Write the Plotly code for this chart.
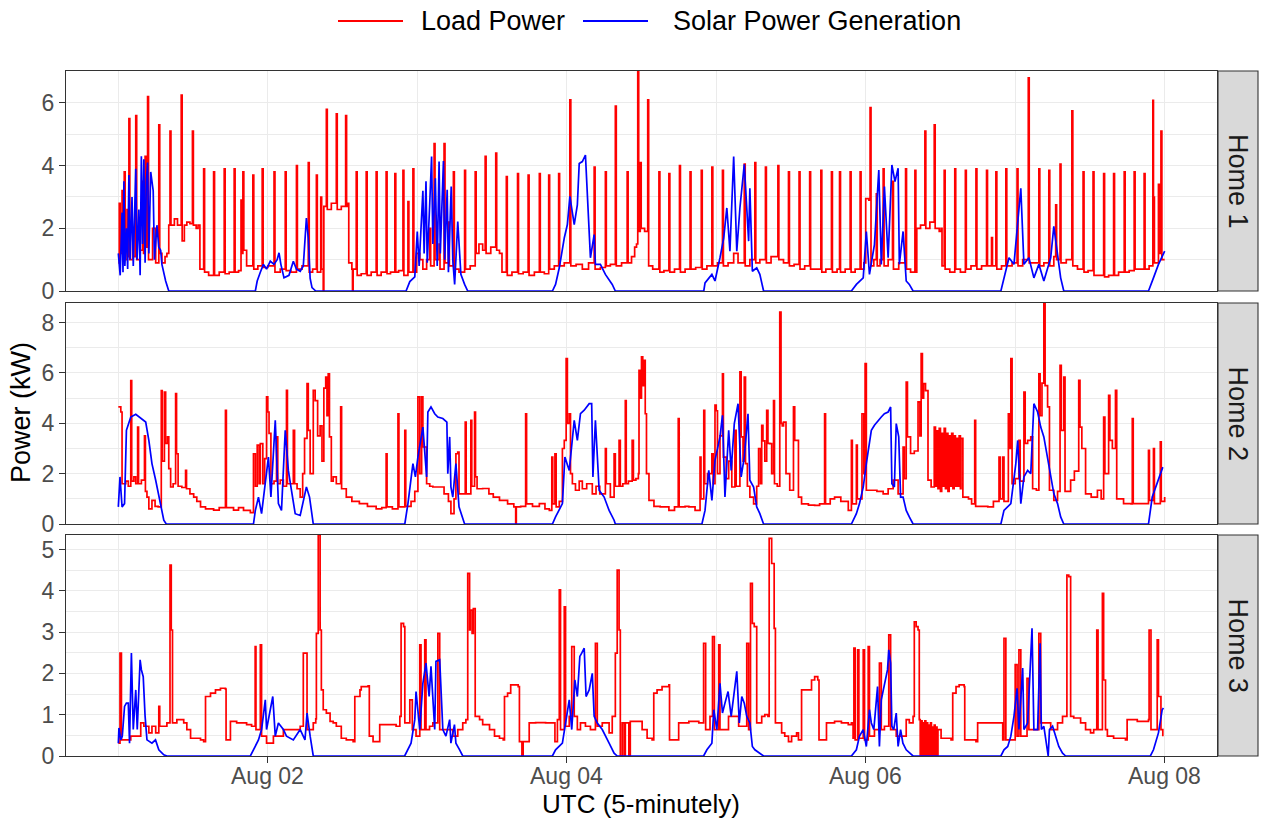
import plotly.graph_objects as go
import pandas as pd

# ---------------- data (hours since 2017-08-01 00:00 UTC, kW) ----------------
h1_load = [(0.0,0.9),(0.15,2.8),(0.3,1.2),(0.6,3.2),(0.8,1.0),(0.95,3.8),(1.1,1.0),(1.4,2.6),(1.55,1.1),(1.7,5.5),(1.85,1.0),(2.3,2.0),(2.5,1.1),(2.8,5.6),(2.95,1.0),(3.5,1.3),(3.9,3.5),(4.05,1.2),(4.3,4.3),(4.5,1.4),(4.7,6.2),(4.85,1.0),(5.5,2.0),(6.0,0.9),(6.5,5.3),(6.65,1.2),(7.0,0.9),(7.5,1.1),(7.8,1.2),(8.1,2.1),(8.3,5.1),(8.45,2.1),(9.0,2.3),(9.5,2.1),(10.1,6.25),(10.25,1.6),(10.6,2.1),(11.0,2.2),(11.5,2.15),(11.9,5.1),(12.05,2.1),(12.5,2.0),(12.8,2.1),(13.1,0.7),(13.7,3.9),(13.85,0.6),(14.5,0.5),(15.3,3.8),(15.45,0.5),(16.2,0.6),(17.0,3.9),(17.15,0.55),(17.8,0.6),(18.6,3.9),(18.75,0.6),(19.3,0.65),(19.7,2.9),(19.85,1.2),(20.0,3.8),(20.15,1.3),(20.6,0.8),(21.6,3.7),(21.75,0.7),(22.4,0.8),(23.1,3.9),(23.25,0.75),(24.0,0.8),(25.0,3.8),(25.15,0.6),(26.0,0.7),(26.8,3.8),(26.95,0.65),(27.7,0.6),(28.6,4.0),(28.75,0.7),(29.5,0.8),(30.5,4.1),(30.65,0.6),(31.2,0.7),(31.8,3.7),(31.95,0.6),(32.5,3.0),(32.65,0.7),(32.85,0.7),(32.9,0.0),(33.0,2.7),(33.4,5.8),(33.55,2.6),(34.2,2.8),(35.0,5.65),(35.15,2.6),(35.8,2.7),(36.5,5.6),(36.65,2.7),(36.9,2.8),(37.0,0.9),(37.5,0.7),(37.6,0.0),(37.7,0.7),(38.2,3.8),(38.35,0.5),(39.0,0.55),(39.8,3.8),(39.95,0.5),(40.6,0.6),(41.4,3.8),(41.55,0.5),(42.2,0.6),(43.0,3.8),(43.15,0.55),(43.7,0.6),(44.4,3.75),(44.55,0.6),(45.0,0.65),(45.7,3.85),(45.85,0.5),(46.5,2.85),(46.65,0.6),(47.3,3.9),(47.45,0.6),(47.9,1.2),(48.4,1.0),(48.9,0.7),(49.5,1.0),(50.0,2.0),(50.15,0.8),(50.7,4.7),(50.85,1.0),(51.5,1.5),(51.65,0.7),(52.3,4.7),(52.45,0.9),(53.0,2.2),(53.15,0.8),
(53.8,3.8),(53.95,0.7),(54.7,0.6),(55.6,3.85),(55.75,0.7),(56.5,0.8),(57.3,3.8),(57.45,1.2),(57.9,1.5),(58.5,1.3),(58.9,4.3),(59.05,1.2),(59.8,1.4),(60.6,4.4),(60.75,1.3),(61.2,1.2),(61.6,0.6),(62.3,3.65),(62.45,0.5),(63.2,0.6),(64.1,3.75),(64.25,0.55),(65.0,0.6),(65.8,3.7),(65.95,0.5),(66.8,0.6),(67.6,3.75),(67.75,0.6),(68.4,0.55),(69.1,3.7),(69.25,0.7),(70.0,0.8),(70.7,3.75),(70.85,0.8),(71.6,0.9),(72.5,6.1),(72.65,0.8),(73.5,0.85),(74.5,0.7),(75.5,0.9),(76.4,3.95),(76.55,0.7),(77.4,0.75),(78.2,3.8),(78.35,0.8),(79.0,0.85),(79.8,5.9),(79.95,0.8),(80.8,0.9),(81.7,3.8),(81.85,0.9),(82.4,1.1),(82.9,1.4),(83.2,1.5),(83.4,7.02),(83.55,1.9),(83.8,4.1),(83.95,2.0),(84.5,1.9),(85.0,6.1),(85.15,0.8),(85.8,0.7),(86.8,3.8),(86.95,0.6),(87.6,0.65),(88.4,3.75),(88.55,0.6),(89.3,0.7),(90.1,4.0),(90.25,0.6),(91.0,0.7),(91.8,3.8),(91.95,0.7),(92.7,0.75),(93.6,3.85),(93.75,0.7),(94.5,0.8),(95.3,3.95),(95.45,0.8),(96.2,0.9),(97.0,3.85),(97.15,0.8),(97.9,0.9),(98.8,1.2),(99.5,0.9),(100.5,4.05),(100.65,0.8),(101.4,1.0),(102.2,4.1),(102.35,0.9),(103.0,1.0),(103.9,3.95),(104.05,0.9),(104.8,1.1),(105.9,4.0),(106.05,1.0),(106.8,0.9),(107.6,3.8),(107.75,0.8),(108.5,0.85),(109.3,3.8),(109.45,0.7),(110.2,0.8),(111.0,3.8),(111.15,0.7),(111.9,0.7),(112.8,3.85),(112.95,0.6),(113.6,0.7),(114.5,3.8),(114.65,0.6),(115.4,0.7),
(115.8,3.8),(115.95,0.6),(116.7,0.7),(117.5,3.8),(117.65,0.6),(118.3,0.7),(119.1,3.8),(119.25,0.7),(119.7,0.9),(120.0,2.95),(120.5,2.9),(120.7,5.85),(120.85,0.8),(121.3,1.0),(121.7,3.1),(121.85,0.8),(122.3,1.0),(122.8,3.9),(122.95,0.8),(123.6,1.0),(124.3,3.5),(124.45,0.7),(125.3,0.9),(126.4,3.9),(126.55,0.7),(127.2,0.6),(127.9,3.85),(128.05,0.6),(128.2,2.0),(128.8,2.1),(129.5,5.1),(129.65,2.0),(130.3,2.2),(131.0,5.3),(131.15,2.0),(131.8,1.9),(132.1,2.0),(132.25,0.8),(132.6,3.85),(132.75,0.7),(133.5,0.6),(134.3,3.9),(134.45,0.7),(135.2,0.6),(136.0,3.85),(136.15,0.7),(136.9,0.8),(137.7,3.9),(137.85,0.7),(138.6,0.8),(139.4,3.85),(139.55,0.8),(140.2,1.7),(140.35,0.8),(140.9,3.8),(141.05,0.7),(141.8,0.8),(142.5,3.9),(142.65,0.8),(143.5,0.9),(144.3,3.9),(144.45,0.8),(145.2,1.0),(146.1,6.8),(146.25,0.9),(147.0,0.9),(147.8,3.9),(147.95,0.8),(148.6,0.9),(149.4,3.85),(149.55,0.8),(150.2,1.1),(150.5,2.75),(150.65,1.0),(151.2,4.05),(151.35,0.9),(152.2,1.0),(153.1,5.75),(153.25,0.8),(154.0,0.7),(154.9,3.8),(155.05,0.6),(155.7,0.65),(156.5,3.8),(156.65,0.5),(157.4,0.5),(158.2,3.75),(158.35,0.45),(159.0,0.5),(159.8,3.75),(159.95,0.5),(160.6,0.6),(161.5,3.8),(161.65,0.6),(162.3,0.65),(163.1,3.8),(163.25,0.7),(163.9,0.7),(164.7,3.75),(164.85,0.7),(165.5,0.8),(166.1,6.08),(166.2,3.0),(166.35,0.9),(167.0,3.4),(167.15,1.2),(167.4,5.1),(167.55,1.0),(168.0,1.0)]

h1_solar = [(0.0,1.2),(0.3,0.5),(0.6,2.5),(0.75,0.6),(0.9,3.5),(1.05,0.8),(1.3,2.0),(1.5,0.7),(1.7,3.7),(1.9,1.0),(2.2,3.0),(2.4,0.8),(2.8,3.9),(3.0,1.0),(3.3,2.6),(3.5,0.5),(3.7,4.3),(3.9,1.5),(4.1,4.2),(4.3,0.9),(4.5,3.5),(4.7,4.1),(4.9,1.2),(5.2,3.8),(5.6,3.2),(5.8,1.0),(6.2,2.1),(6.5,1.4),(6.8,1.3),(7.0,0.85),(7.6,0.32),(8.1,0.0),
(22.0,0.0),(22.3,0.32),(22.8,0.6),(23.3,0.85),(23.8,0.7),(24.4,0.95),(25.0,0.85),(25.5,1.0),(25.8,1.22),(26.1,0.85),(26.6,0.42),(27.4,0.5),(28.1,0.95),(28.6,0.7),(29.2,0.63),(29.7,0.8),(30.2,2.33),(30.5,1.69),(30.8,0.4),(31.1,0.11),(31.7,0.0),
(46.2,0.0),(46.8,0.3),(47.6,0.45),(48.0,1.9),(48.3,0.8),(48.9,3.2),(49.1,1.2),(49.4,3.5),(49.6,0.9),(50.0,2.8),(50.3,4.29),(50.5,1.5),(50.9,3.6),(51.2,0.8),(51.5,4.13),(51.7,1.2),(52.0,3.0),(52.2,4.15),(52.4,1.0),(52.8,3.23),(53.0,0.6),(53.45,3.33),(53.7,1.0),(54.0,0.21),(54.5,2.22),(55.0,0.53),(55.6,0.21),(56.1,0.0),
(69.7,0.0),(70.2,0.21),(70.8,0.74),(71.6,1.69),(72.1,2.12),(72.5,3.02),(73.2,2.12),(73.7,2.75),(74.0,4.07),(74.5,4.13),(75.0,4.34),(75.6,1.9),(75.8,1.06),(76.4,1.8),(76.6,0.85),(77.4,0.85),(78.2,0.53),(79.3,0.21),(79.8,0.0),
(94.0,0.0),(94.2,0.26),(95.3,0.53),(95.8,0.32),(96.6,1.06),(97.2,1.69),(97.7,2.65),(98.2,1.27),(98.8,4.29),(99.3,1.27),(99.8,2.65),(100.5,4.04),(101.2,1.59),(101.4,3.28),(101.8,0.63),(102.5,0.74),(103.0,0.53),(103.6,0.0),
(117.7,0.0),(118.5,0.21),(119.6,0.42),(120.1,1.9),(120.6,0.53),(121.4,1.48),(122.1,3.86),(122.5,0.85),(123.0,3.33),(123.6,1.06),(124.2,4.02),(124.7,3.49),(125.2,3.92),(125.4,0.85),(126.0,1.9),(126.5,0.32),(127.0,0.21),(127.6,0.0),
(141.7,0.0),(142.2,0.42),(143.0,1.06),(143.8,0.85),(144.9,3.28),(145.4,0.85),(146.2,1.06),(147.0,0.42),(147.8,0.85),(148.6,0.32),(149.7,1.06),(150.2,2.06),(150.8,1.06),(151.3,0.42),(151.8,0.0),
(165.4,0.0),(166.2,0.42),(167.0,0.85),(168.0,1.27)]

h2_load = [(0.0,4.65),(0.4,4.45),(0.6,1.6),(1.2,1.7),(1.6,1.5),(2.0,5.7),(2.15,1.7),(2.5,1.87),(2.8,1.6),(3.1,3.85),(3.25,1.6),(3.7,1.74),(4.2,3.5),(4.35,1.3),(4.6,1.07),(4.9,0.6),(5.4,0.94),(5.9,0.7),(6.4,0.68),(6.9,5.3),(7.05,2.5),(7.4,5.24),(7.6,3.2),(7.9,3.46),(8.1,2.2),(8.4,1.47),(8.8,1.6),(9.2,5.18),(9.35,2.79),(9.6,1.5),(10.2,1.45),(10.8,2.13),(10.95,1.4),(11.5,1.2),(12.1,1.07),(12.6,0.9),(13.2,0.68),(14.0,0.6),(15.3,0.55),(16.2,0.65),(17.2,4.52),(17.35,0.65),(18.5,0.55),(19.3,0.65),(20.1,0.54),(21.2,0.45),(21.7,2.79),(22.0,1.5),(22.3,3.13),(22.6,1.6),(22.8,3.19),(23.2,1.6),(23.5,2.6),(23.8,5.05),(24.0,4.45),(24.2,3.6),(24.5,1.6),(25.0,1.7),(25.4,3.46),(25.6,1.6),(26.0,1.74),(26.5,1.5),(27.0,5.31),(27.15,1.6),(27.6,1.6),(28.1,3.72),(28.3,1.6),(28.7,1.4),(29.2,1.07),(29.6,2.0),(29.9,3.4),(30.3,5.58),(30.5,3.72),(30.8,2.0),(31.3,5.31),(31.6,4.9),(32.0,3.5),(32.4,3.9),(32.7,2.5),(33.0,5.4),(33.3,5.84),(33.5,4.3),(33.7,5.97),(33.9,3.46),(34.2,1.7),(34.5,1.87),(35.0,1.6),(35.7,4.65),(35.85,1.4),(36.6,1.07),(37.5,0.9),(38.7,0.81),(40.0,0.7),(41.4,0.6),(42.3,0.65),(43.0,2.79),(43.15,0.68),(44.0,0.6),(44.9,4.38),(45.05,0.68),(46.0,3.72),(46.15,0.7),(47.0,0.9),(47.6,1.3),(48.1,5.05),(48.4,2.0),(48.7,5.05),(48.9,3.06),(49.5,1.6),(50.0,1.5),(50.5,1.47),(51.6,1.47),(52.3,1.2),(53.0,0.9),(53.4,0.41),(53.9,1.0),(54.2,2.79),(54.5,2.86),(54.7,1.2),(55.0,1.2),
(55.7,4.05),(55.85,1.2),(56.1,1.2),(56.6,4.12),(56.75,1.5),(57.2,4.45),(57.35,1.87),(57.6,1.4),(58.5,1.41),(59.5,1.2),(60.2,1.07),(61.2,0.94),(62.5,0.8),(63.5,0.68),(63.8,0.0),(63.9,0.68),(64.6,0.7),(65.4,4.38),(65.55,0.8),(66.5,0.7),(67.6,0.81),(68.5,0.6),(69.2,0.54),(69.6,2.66),(69.75,0.8),(70.1,2.79),(70.3,0.68),(70.8,0.9),(71.3,3.0),(71.6,3.32),(71.9,6.57),(72.1,4.0),(72.4,4.38),(72.6,2.0),(72.9,1.6),(73.4,1.34),(74.0,1.7),(74.5,1.4),(75.2,1.6),(76.1,1.2),(76.7,1.5),(77.3,1.2),(78.2,3.0),(78.35,1.6),(79.0,1.07),(79.6,2.79),(79.8,1.5),(80.4,3.32),(80.6,1.5),(81.0,1.6),(81.4,4.9),(81.55,1.6),(81.9,1.7),(82.5,3.32),(82.7,1.74),(83.1,1.8),(83.5,2.0),(83.6,6.1),(83.8,5.0),(84.0,6.64),(84.2,5.5),(84.4,6.5),(84.6,4.38),(84.8,2.0),(85.2,0.94),(86.0,0.7),(87.0,0.68),(88.4,0.54),(89.3,0.68),(89.9,4.19),(90.05,0.68),(91.0,0.7),(91.6,0.68),(92.6,0.54),(93.4,2.66),(93.55,1.0),(94.0,4.52),(94.15,1.6),(94.6,2.0),(95.3,2.79),(95.5,1.6),(95.8,4.72),(96.0,4.5),(96.2,2.0),(96.6,3.5),(97.0,5.97),(97.15,2.66),(97.6,1.8),(98.0,2.5),(98.5,1.47),(99.0,3.72),(99.2,1.5),(99.8,6.04),(100.0,3.46),(100.3,2.5),(100.5,5.84),(100.7,2.4),(101.0,1.5),(101.4,1.07),(102.0,0.8),(102.5,1.5),(102.8,3.0),(103.1,1.6),(103.3,3.92),(103.5,3.3),(103.8,2.5),(104.1,4.52),(104.3,3.2),(104.6,3.19),(104.9,2.0),(105.2,4.9),(105.35,1.6),(105.8,1.5),(106.2,8.42),(106.4,4.0),(106.6,3.9),(106.8,4.05),(107.2,2.0),(107.8,1.34),(108.4,4.65),(108.6,3.32),(108.9,3.32),(109.2,1.07),(109.7,0.8),(110.8,0.75),(111.8,0.74),(112.6,0.8),(113.4,4.38),(113.55,0.8),(114.3,1.0),(115.0,1.07),(116.0,0.9),(117.2,0.54),
(117.7,3.32),(117.85,0.8),(118.5,3.13),(118.65,1.0),(119.0,1.0),(119.4,4.38),(119.7,2.0),(119.9,6.37),(120.1,1.34),(120.9,1.34),(121.8,1.3),(122.8,1.2),(123.6,1.4),(124.4,1.74),(125.2,1.2),(126.0,3.06),(126.2,1.8),(126.5,5.64),(126.7,3.46),(127.2,2.8),(127.8,2.9),(128.4,4.85),(128.7,3.5),(128.9,6.77),(129.1,5.0),(129.3,5.58),(129.6,5.3),(130.0,1.74),(130.5,1.47),(131.0,3.85),(131.2,1.5),(131.4,3.7),(131.6,1.4),(131.8,3.8),(132.0,1.3),(132.2,3.6),(132.4,1.5),(132.6,3.8),(132.8,1.4),(133.0,3.6),(133.2,1.3),(133.4,3.5),(133.6,1.5),(133.8,3.6),(134.0,1.4),(134.2,3.5),(134.4,1.5),(134.6,3.4),(134.8,1.5),(135.0,3.5),(135.2,1.4),(135.3,3.4),(135.6,1.07),(136.5,1.0),(137.0,0.8),(137.5,4.12),(137.65,0.7),(138.5,0.7),(139.6,0.68),(140.5,0.9),(141.4,2.66),(141.6,1.0),(142.0,2.66),(142.2,0.9),(142.9,4.38),(143.1,3.0),(143.3,6.57),(143.5,1.6),(144.0,1.8),(144.6,3.32),(144.8,1.7),(145.4,5.24),(145.6,3.2),(146.0,3.32),(146.5,3.46),(146.8,1.4),(147.4,1.34),(147.8,5.97),(148.0,4.3),(148.3,5.6),(148.6,8.76),(148.8,5.5),(149.2,4.65),(149.5,1.34),(150.2,0.94),(150.8,1.3),(151.2,6.3),(151.4,3.72),(151.8,5.84),(152.0,1.3),(152.9,1.74),(153.5,2.1),(154.2,5.71),(154.4,3.85),(154.7,3.0),(155.3,1.2),(156.2,1.07),(157.2,1.34),(157.8,1.0),(158.2,4.25),(158.4,2.0),(159.0,5.11),(159.2,3.32),(159.6,3.0),(160.1,5.31),(160.3,1.0),(161.4,0.81),(162.6,0.8),(162.8,4.19),(162.95,0.81),(164.6,0.81),(165.4,2.93),(165.55,0.94),(166.2,3.0),(166.35,0.81),(167.3,3.26),(167.45,0.9),(168.0,1.07)]

h2_solar = [(0.0,0.68),(0.27,1.87),(0.6,0.68),(1.0,0.81),(1.3,3.72),(1.7,3.99),(2.0,4.25),(2.8,4.36),(3.6,4.19),(4.4,4.05),(4.9,3.32),(5.4,2.4),(6.0,1.74),(6.8,0.81),(7.3,0.15),(7.7,0.0),
(21.7,0.0),(22.0,0.54),(22.5,1.07),(23.0,0.41),(23.6,1.6),(24.1,2.66),(24.5,1.07),(25.2,4.12),(25.7,0.81),(26.2,0.54),(26.8,3.72),(27.3,2.13),(27.8,1.34),(28.4,0.41),(29.2,0.34),(30.2,1.47),(30.7,1.07),(31.3,0.0),
(46.0,0.0),(46.5,0.81),(47.3,2.4),(47.7,1.87),(48.1,2.66),(48.6,3.46),(48.9,3.85),(49.5,1.87),(49.7,4.45),(50.2,4.65),(50.8,4.38),(51.3,4.25),(52.1,4.19),(52.75,4.05),(52.9,2.0),(53.2,3.46),(53.4,1.47),(53.7,1.07),(54.2,2.4),(54.7,0.68),(55.2,0.28),(55.6,0.0),
(69.7,0.0),(70.2,0.28),(71.3,0.81),(71.7,2.66),(72.4,2.13),(73.2,4.12),(73.7,3.32),(74.2,4.38),(74.8,4.52),(75.6,4.78),(76.0,4.78),(76.2,1.87),(76.6,4.12),(77.2,1.34),(78.0,1.07),(78.8,0.54),(79.6,0.15),(79.8,0.0),
(93.7,0.0),(94.2,0.54),(94.8,2.13),(95.3,0.94),(95.8,2.53),(96.6,3.46),(97.0,4.32),(97.4,1.07),(98.0,3.72),(98.4,2.13),(98.9,3.99),(99.5,4.78),(100.0,1.87),(100.5,2.66),(101.1,4.38),(101.4,1.74),(102.0,1.47),(102.5,0.68),(103.0,0.41),(103.6,0.0),
(117.7,0.0),(118.5,0.41),(119.0,0.81),(119.6,1.47),(120.1,2.4),(120.5,3.06),(120.9,3.72),(121.4,3.92),(122.0,4.12),(122.5,4.25),(123.0,4.38),(123.6,4.45),(124.0,4.65),(124.2,1.6),(124.6,1.47),(124.9,3.99),(125.3,3.46),(125.6,1.07),(126.0,1.07),(126.5,0.54),(127.0,0.28),(127.6,0.0),
(141.7,0.0),(142.2,0.54),(143.3,0.81),(144.1,2.4),(144.4,3.32),(144.9,0.81),(145.4,1.87),(146.0,2.13),(146.5,2.0),(147.0,4.78),(147.6,4.45),(148.1,3.85),(148.6,3.46),(149.2,2.66),(149.7,2.0),(150.2,1.21),(150.8,0.81),(151.3,0.28),(151.8,0.0),
(165.4,0.0),(166.0,1.07),(166.8,1.6),(167.7,2.26)]

h3_load = [(0.0,0.31),(0.27,2.49),(0.5,0.39),(1.2,0.39),(2.0,0.48),(3.0,0.48),(3.6,0.8),(4.1,0.72),(4.9,0.56),(5.4,0.72),(6.0,0.56),(6.5,1.2),(6.65,0.72),(6.8,0.72),(7.8,0.8),(8.2,0.8),(8.3,4.62),(8.5,3.05),(8.7,0.8),(9.4,0.88),(10.5,0.8),(11.0,0.64),(11.6,0.43),(13.2,0.39),(13.7,0.35),(14.0,1.44),(14.8,1.52),(15.6,1.6),(16.4,1.64),(17.2,1.62),(17.3,0.39),(17.7,0.39),(18.0,0.84),(19.0,0.8),(20.6,0.76),(21.4,0.72),(21.9,0.72),(21.97,2.65),(22.1,0.64),(22.7,0.64),(22.8,2.69),(23.0,0.48),(23.8,0.31),(24.9,0.48),(26.5,0.64),(28.1,0.64),(29.2,0.72),(29.6,0.72),(29.7,2.49),(30.1,2.49),(30.3,0.64),(31.3,0.8),(31.7,0.9),(31.8,2.97),(32.1,5.35),(32.4,3.05),(32.6,1.6),(32.9,1.12),(33.4,1.04),(34.0,0.84),(34.5,0.8),(35.0,0.72),(35.8,0.43),(36.6,0.39),(37.7,0.35),(37.97,1.44),(38.8,1.6),(39.0,1.68),(40.1,1.7),(40.3,0.48),(40.9,0.35),(41.7,0.35),(41.97,0.76),(43.6,0.76),(44.6,0.72),(45.2,0.96),(45.4,3.21),(45.8,3.13),(46.0,0.8),(46.2,0.8),(46.8,1.36),(47.2,0.64),(47.8,0.48),(48.4,2.69),(48.6,0.64),(49.2,2.81),(49.4,0.64),(49.97,0.72),(50.5,0.8),(51.3,2.97),(51.6,0.64),(52.6,0.64),(53.7,0.48),(54.5,0.64),
(55.3,0.8),(55.8,0.88),(56.1,4.42),(56.4,3.05),(56.5,3.53),(56.8,2.97),(57.0,3.57),(57.3,0.96),(58.0,0.88),(58.5,0.76),(59.6,0.64),(60.4,0.48),(61.2,0.43),(61.8,0.39),(62.0,1.44),(62.5,1.52),(63.0,1.72),(63.8,1.72),(64.2,1.68),(64.4,0.35),(64.6,0.35),(64.8,0.0),(65.0,0.35),(65.7,0.35),(65.97,0.8),(67.0,0.81),(68.6,0.8),(69.7,0.8),(70.1,0.35),(70.5,0.88),(70.8,4.02),(71.0,0.64),(71.6,3.61),(71.8,0.72),(72.4,0.96),(72.8,2.65),(73.2,0.96),(73.7,0.64),(74.2,0.8),(75.0,0.72),(75.8,0.64),(76.6,2.73),(76.9,0.72),(77.7,0.8),(78.8,0.56),(79.3,0.96),(79.8,2.49),(80.1,4.5),(80.4,3.05),(80.6,0.0),(80.9,0.8),(81.2,0.0),(81.4,0.8),(81.97,0.0),(82.2,0.84),(83.0,0.84),(84.1,0.64),(84.9,0.43),(85.7,0.39),(85.97,1.52),(86.5,1.6),(87.3,1.68),(88.4,1.72),(88.5,0.39),(89.4,0.39),(89.97,0.8),(91.6,0.84),(93.2,0.8),(93.97,2.73),(94.3,0.64),(95.0,0.96),(95.4,2.89),(95.7,0.64),(96.4,2.69),(96.6,0.64),(97.97,0.96),(99.6,0.72),(100.9,2.73),(101.2,0.64),(101.5,4.18),(101.8,3.21),(102.1,3.13),(102.5,0.8),(103.3,0.96),(103.8,1.0),(104.3,0.96),(104.5,5.27),(104.9,4.66),(105.3,3.09),(105.5,0.8),(106.2,0.8),(106.5,0.56),(107.0,0.48),(107.6,0.35),(108.1,0.48),(108.9,0.56),(109.2,0.39),(109.7,1.6),(110.5,1.6),(111.3,1.84),(111.8,1.92),(112.3,1.84),(112.5,0.39),(113.4,0.39),(113.7,0.8),(115.0,0.84),(116.1,0.8),(117.2,0.76),
(117.7,0.8),(117.97,0.43),(118.1,2.61),(118.3,0.39),(118.7,2.57),(118.9,0.43),(119.6,2.57),(119.8,0.39),(120.4,2.65),(120.6,0.48),(121.4,0.64),(122.2,2.25),(122.5,0.64),(123.0,0.72),(123.7,2.93),(124.0,0.64),(124.9,0.48),(125.7,0.48),(126.5,0.88),(127.0,0.8),(127.6,0.96),(127.8,3.25),(128.1,3.13),(128.4,3.05),(128.6,0.88),(128.75,0.0),(128.9,0.85),(129.05,0.0),(129.2,0.8),(129.35,0.0),(129.5,0.85),(129.65,0.0),(129.8,0.8),(129.95,0.0),(130.1,0.75),(130.25,0.0),(130.4,0.8),(130.55,0.0),(130.7,0.7),(130.85,0.0),(131.0,0.75),(131.15,0.0),(131.3,0.7),(131.45,0.0),(131.6,0.64),(132.1,0.43),(133.7,0.39),(133.97,1.52),(134.5,1.68),(135.0,1.72),(135.8,1.68),(135.9,0.39),(136.9,0.39),(137.7,0.35),(137.97,0.8),(139.6,0.8),(141.2,0.8),(142.0,0.39),(142.2,2.85),(142.5,0.39),(143.3,0.39),(144.0,2.21),(144.3,0.48),(144.6,2.57),(144.9,0.48),(145.9,1.88),(146.2,0.64),(147.0,0.64),(147.8,2.97),(148.1,0.8),(148.9,0.8),(149.7,0.64),(150.8,0.8),(151.6,0.96),(152.3,4.38),(152.6,4.34),(152.9,0.96),(153.4,0.92),(154.5,0.8),(155.3,0.64),(156.1,0.56),(156.6,0.64),(157.1,3.05),(157.3,0.64),(158.0,3.94),(158.2,1.84),(158.5,0.64),(158.8,0.48),(159.8,0.43),(160.9,0.43),(161.7,0.39),(161.97,0.88),(163.6,0.84),(165.4,0.88),(165.5,3.05),(165.8,0.64),(166.5,0.64),(166.8,2.81),(167.0,1.44),(167.4,0.64),(167.7,0.48)]

h3_solar = [(0.0,0.31),(0.1,0.68),(0.4,0.39),(0.64,0.48),(1.0,1.2),(1.3,1.28),(1.6,1.28),(1.8,0.31),(2.1,2.49),(2.4,0.64),(2.8,1.6),(3.04,0.64),(3.5,2.33),(3.7,2.09),(4.0,1.92),(4.3,0.96),(4.6,0.39),(5.4,0.31),(5.97,0.39),(6.5,0.15),(7.3,0.03),(7.8,0.0),
(21.2,0.0),(21.7,0.15),(22.5,0.39),(23.0,0.64),(23.6,1.36),(23.8,0.64),(24.4,1.12),(24.8,1.44),(25.2,0.48),(25.7,0.8),(26.5,0.64),(27.0,0.48),(28.1,0.39),(29.2,0.64),(29.97,0.39),(30.3,1.04),(30.8,0.48),(31.3,0.0),
(45.97,0.0),(46.5,0.15),(47.0,0.31),(47.6,0.88),(47.8,1.56),(48.4,0.64),(48.9,1.76),(49.4,2.25),(49.9,1.44),(50.2,2.17),(50.8,0.64),(51.0,2.29),(51.6,2.33),(52.1,0.64),(52.6,0.48),(53.2,0.88),(53.4,0.31),(53.97,0.76),(54.2,0.31),(54.8,0.15),(55.3,0.0),
(69.7,0.0),(70.2,0.15),(71.3,0.31),(72.1,1.12),(72.4,1.36),(72.8,0.64),(73.3,1.84),(73.7,1.44),(74.1,2.41),(74.4,2.49),(74.8,2.61),(75.1,1.44),(75.6,1.6),(76.1,2.0),(76.4,0.96),(76.9,0.8),(77.7,0.64),(78.8,0.31),(79.6,0.07),(80.1,0.0),
(93.97,0.0),(94.5,0.15),(95.3,0.31),(95.6,1.12),(96.1,0.64),(96.6,1.76),(97.0,1.04),(97.4,1.28),(97.9,1.56),(98.4,0.96),(98.8,1.44),(99.3,2.05),(99.7,0.8),(100.1,1.44),(100.5,1.28),(100.9,0.96),(101.4,0.8),(101.8,0.23),(102.2,0.15),(103.0,0.07),(103.6,0.0),
(117.7,0.0),(118.5,0.15),(119.0,0.48),(119.6,0.64),(120.1,0.23),(120.6,1.12),(120.9,0.8),(121.3,0.64),(121.9,1.68),(122.2,0.23),(122.5,1.36),(123.0,1.76),(123.5,2.09),(123.7,2.57),(124.0,2.25),(124.2,0.72),(124.5,0.64),(124.9,1.04),(125.2,0.23),(125.6,0.64),(125.97,0.31),(126.5,0.15),(127.0,0.07),(127.6,0.0),
(141.7,0.0),(142.2,0.15),(142.8,0.23),(143.3,0.48),(143.8,0.96),(144.3,1.64),(144.6,0.64),(145.2,2.13),(145.4,0.64),(146.0,0.8),(146.7,3.09),(147.0,0.64),(147.6,0.64),(148.0,2.73),(148.2,0.64),(148.6,0.72),(149.3,0.0),(149.5,0.64),(150.0,0.72),(150.5,0.48),(151.0,0.23),(151.6,0.07),(152.1,0.0),
(165.7,0.0),(166.2,0.15),(167.0,0.56),(167.6,1.12),(167.8,1.16)]

panel_names = ["Home 1", "Home 2", "Home 3"]
y_max = [7.02, 8.78, 5.35]
y_major = [[0, 2, 4, 6], [0, 2, 4, 6, 8], [0, 1, 2, 3, 4, 5]]
y_minor = [[1, 3, 5, 7], [1, 3, 5, 7], [0.5, 1.5, 2.5, 3.5, 4.5]]
x_major_days = ["2017-08-02", "2017-08-04", "2017-08-06", "2017-08-08"]
x_major_text = ["Aug 02", "Aug 04", "Aug 06", "Aug 08"]
x_minor_days = ["2017-08-01", "2017-08-03", "2017-08-05", "2017-08-07"]
series_names = ["Load Power", "Solar Power Generation"]
series_colors = ["#FF0000", "#0000FF"]
series_shapes = ["hv", "linear"]

# ---------------- figure ----------------
BASE = pd.Timestamp("2017-08-01")
FONT = "Liberation Sans, Arial, Helvetica, sans-serif"
W, H = 1261, 818
ML, MR, MT, MB = 66, 44, 71, 62
PW, PH = W - ML - MR, H - MT - MB
TXT = 26
TICK = 23

def to_xy(pairs):
    return ([BASE + pd.Timedelta(hours=h) for h, _ in pairs], [v for _, v in pairs])

panel_px = [(71, 291), (303, 524), (535, 756)]
domains = [[(H - MB - b) / PH, (H - MB - t) / PH] for t, b in panel_px]

fig = go.Figure()
data = [(h1_load, h1_solar), (h2_load, h2_solar), (h3_load, h3_solar)]
for i, (load, solar) in enumerate(data):
    xa = "x" if i == 0 else f"x{i+1}"
    ya = "y" if i == 0 else f"y{i+1}"
    for pairs, name, col, shp in zip((load, solar), series_names, series_colors, series_shapes):
        x, y = to_xy(pairs)
        fig.add_trace(go.Scatter(x=x, y=y, mode="lines", name=name,
                                 line=dict(color=col, width=1.7, shape=shp),
                                 xaxis=xa, yaxis=ya, showlegend=False,
                                 hoverinfo="skip"))

x_range = [BASE - pd.Timedelta(hours=8.4), BASE + pd.Timedelta(hours=176.4)]
layout = dict(
    width=W, height=H,
    margin=dict(l=ML, r=MR, t=MT, b=MB),
    paper_bgcolor="white", plot_bgcolor="white",
    font=dict(family=FONT, color="#1A1A1A"),
    showlegend=False,
)
for i in range(3):
    sx = "" if i == 0 else str(i + 1)
    bottom = (i == 2)
    layout["xaxis" + sx] = dict(
        domain=[0, 1], anchor="y" + sx, type="date", range=x_range,
        matches=None if i == 0 else "x",
        tickvals=x_major_days, showticklabels=False,
        ticks="outside" if bottom else "",
        ticklen=6, tickwidth=1.1, tickcolor="#333333",
        showgrid=True, gridcolor="#EBEBEB", gridwidth=1.4,
        minor=dict(tickvals=x_minor_days, showgrid=True, gridcolor="#EBEBEB",
                   gridwidth=0.7, ticks=""),
        showline=True, mirror=True, linecolor="#333333", linewidth=1.1,
        zeroline=False, fixedrange=True,
    )
    layout["yaxis" + sx] = dict(
        domain=domains[i], anchor="x" + sx, range=[0, y_max[i]],
        tickvals=y_major[i], ticks="outside", ticklen=6, tickwidth=1.1,
        tickcolor="#333333",
        tickfont=dict(size=TICK, color="#4D4D4D", family=FONT),
        showgrid=True, gridcolor="#EBEBEB", gridwidth=1.4,
        minor=dict(tickvals=y_minor[i], showgrid=True, gridcolor="#EBEBEB",
                   gridwidth=0.7, ticks=""),
        showline=True, mirror=True, linecolor="#333333", linewidth=1.1,
        zeroline=False, fixedrange=True,
    )
fig.update_layout(**layout)

def px_x(p):
    return (p - ML) / PW

def px_y(p):
    return (H - MB - p) / PH

shapes = []
annotations = []
# x tick labels of the bottom panel, placed at their dates
for d, lab in zip(x_major_days, x_major_text):
    annotations.append(dict(text=lab, xref="x3", yref="paper", x=d, y=px_y(776),
                            showarrow=False, xanchor="center", yanchor="middle",
                            borderpad=0,
                            font=dict(size=TICK, color="#4D4D4D", family=FONT)))

for i, name in enumerate(panel_names):
    y0, y1 = domains[i]
    shapes.append(dict(type="rect", xref="paper", yref="paper",
                       x0=px_x(1218), x1=px_x(1258), y0=y0, y1=y1,
                       fillcolor="#D9D9D9", line=dict(color="#333333", width=1.1),
                       layer="above"))
    annotations.append(dict(text=name, xref="paper", yref="paper",
                            x=px_x(1238), y=(y0 + y1) / 2, showarrow=False,
                            textangle=90, xanchor="center", yanchor="middle",
                            font=dict(size=27, color="#1A1A1A", family=FONT)))

leg_y = px_y(21)
leg_items = [(338, 403, 419), (583, 648, 671)]
for (xl0, xl1, xt), name, col in zip(leg_items, series_names, series_colors):
    shapes.append(dict(type="line", xref="paper", yref="paper",
                       x0=px_x(xl0), x1=px_x(xl1), y0=leg_y, y1=leg_y,
                       line=dict(color=col, width=2)))
    annotations.append(dict(text=name, xref="paper", yref="paper",
                            x=px_x(xt), y=leg_y, showarrow=False,
                            xanchor="left", yanchor="middle",
                            font=dict(size=27, color="#000000", family=FONT)))

annotations.append(dict(text="Power (kW)", xref="paper", yref="paper",
                        x=px_x(21), y=px_y(413), showarrow=False, textangle=-90,
                        xanchor="center", yanchor="middle",
                        font=dict(size=27, color="#000000", family=FONT)))
annotations.append(dict(text="UTC (5-minutely)", xref="paper", yref="paper",
                        x=px_x(641), y=px_y(804), showarrow=False,
                        xanchor="center", yanchor="middle", borderpad=0,
                        font=dict(size=TXT, color="#000000", family=FONT)))

fig.update_layout(shapes=shapes, annotations=annotations)
fig.write_html("out.html")
